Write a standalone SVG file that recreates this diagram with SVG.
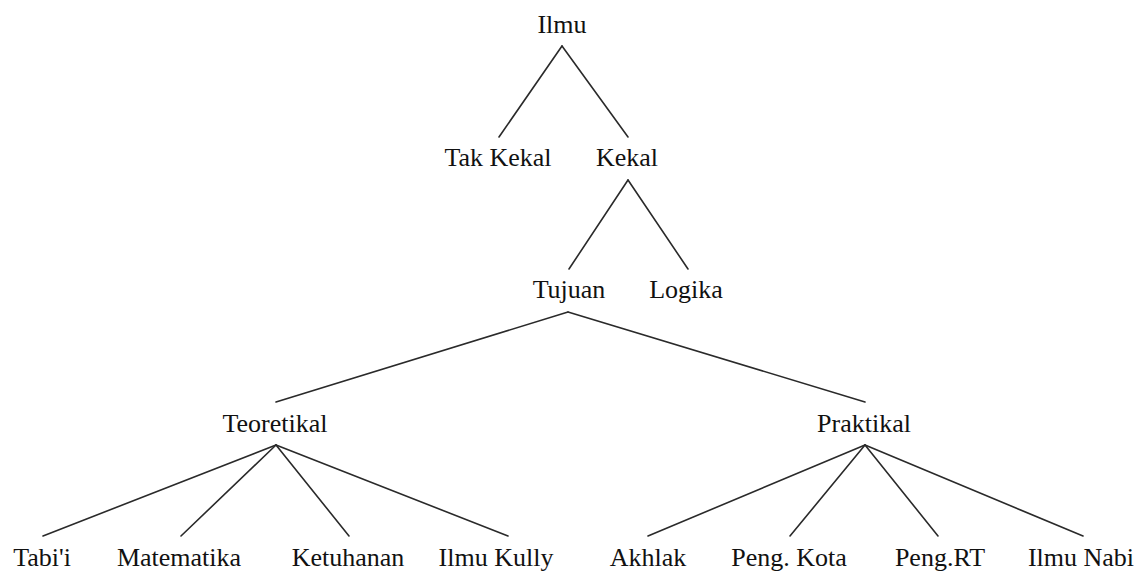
<svg xmlns="http://www.w3.org/2000/svg" width="1140" height="571" viewBox="0 0 1140 571">
<style>
text{font-family:"Liberation Serif","DejaVu Serif",serif;font-size:26px;fill:#111;text-anchor:middle}
.e{stroke:#2a2a2a;stroke-width:1.6;fill:none;stroke-linecap:round}
</style>
<rect width="1140" height="571" fill="#fff"/>
<g id="connectors">
<line class="e" x1="562" y1="46" x2="499" y2="137"/>
<line class="e" x1="562" y1="46" x2="628" y2="137"/>
<line class="e" x1="628" y1="180" x2="569" y2="269"/>
<line class="e" x1="628" y1="180" x2="688" y2="269"/>
<line class="e" x1="568" y1="312" x2="276" y2="402"/>
<line class="e" x1="568" y1="312" x2="865" y2="402"/>
<line class="e" x1="276" y1="445" x2="43" y2="536"/>
<line class="e" x1="276" y1="445" x2="181" y2="536"/>
<line class="e" x1="276" y1="445" x2="349" y2="536"/>
<line class="e" x1="276" y1="445" x2="508" y2="536"/>
<line class="e" x1="865" y1="445" x2="648" y2="536"/>
<line class="e" x1="865" y1="445" x2="790" y2="536"/>
<line class="e" x1="865" y1="445" x2="938" y2="536"/>
<line class="e" x1="865" y1="445" x2="1083" y2="536"/>
</g>
<g id="ilmu"><text x="562" y="33">Ilmu</text></g>
<g id="tak-kekal"><text x="498" y="166">Tak Kekal</text></g>
<g id="kekal"><text x="627" y="166">Kekal</text></g>
<g id="tujuan"><text x="569" y="298">Tujuan</text></g>
<g id="logika"><text x="686" y="298">Logika</text></g>
<g id="teoretikal"><text x="275" y="432">Teoretikal</text></g>
<g id="praktikal"><text x="864" y="432">Praktikal</text></g>
<g id="tabii"><text x="42" y="566">Tabi'i</text></g>
<g id="matematika"><text x="179" y="566">Matematika</text></g>
<g id="ketuhanan"><text x="348" y="566">Ketuhanan</text></g>
<g id="ilmu-kully"><text x="496" y="566">Ilmu Kully</text></g>
<g id="akhlak"><text x="648" y="566">Akhlak</text></g>
<g id="peng-kota"><text x="789" y="566">Peng. Kota</text></g>
<g id="peng-rt"><text x="940" y="566">Peng.RT</text></g>
<g id="ilmu-nabi"><text x="1081" y="566">Ilmu Nabi</text></g>
</svg>
